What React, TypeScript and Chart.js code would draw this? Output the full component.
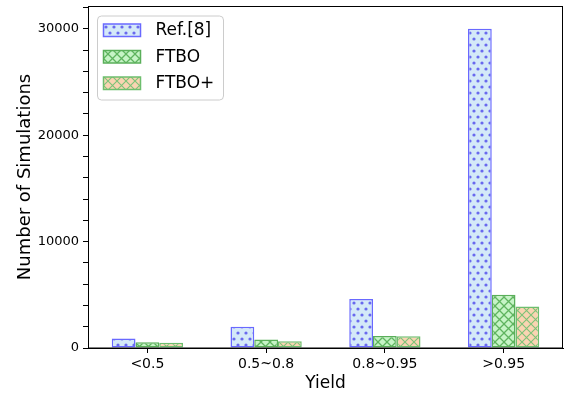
import React, { useEffect, useRef } from 'react';
import { Chart, registerables } from 'chart.js';

Chart.register(...registerables);

const categories = ['<0.5', '0.5~0.8', '0.8~0.95', '>0.95'];
const seriesNames = ['Ref.[8]', 'FTBO', 'FTBO+'];
const refValues = [900, 2000, 4600, 30000];
const ftboValues = [540, 800, 1130, 5000];
const ftboPlusValues = [500, 640, 1100, 3900];
const yTickLabels = [0, 10000, 20000, 30000];
const yMinorStep = 2000;
const yMax = 32150;
const xTitle = 'Yield';
const yTitle = 'Number of Simulations';

const FONT = "'DejaVu Sans', sans-serif";

function makeDots(bg: string, dot: string): CanvasPattern | string {
  const c = document.createElement('canvas');
  c.width = 8;
  c.height = 12;
  const g = c.getContext('2d')!;
  g.fillStyle = bg;
  g.fillRect(0, 0, 8, 12);
  g.fillStyle = dot;
  const pts = [[2, 3], [6, 9]];
  for (const [x, y] of pts) {
    g.beginPath();
    g.arc(x, y, 1.6, 0, Math.PI * 2);
    g.fill();
  }
  return g.createPattern(c, 'repeat') || bg;
}

function makeCross(bg: string, line: string, width: number): CanvasPattern | string {
  const s = 9;
  const c = document.createElement('canvas');
  c.width = s;
  c.height = s;
  const g = c.getContext('2d')!;
  g.fillStyle = bg;
  g.fillRect(0, 0, s, s);
  g.strokeStyle = line;
  g.lineWidth = width;
  for (const o of [-s, 0, s]) {
    g.beginPath();
    g.moveTo(o, 0);
    g.lineTo(o + s, s);
    g.moveTo(o, s);
    g.lineTo(o + s, 0);
    g.stroke();
  }
  return g.createPattern(c, 'repeat') || bg;
}

export default function App() {
  const ref = useRef<HTMLCanvasElement | null>(null);

  useEffect(() => {
    const canvas = ref.current;
    if (!canvas) return;

    const fills = [
      makeDots('rgb(212,233,248)', 'rgb(105,105,238)'),
      makeCross('rgb(198,244,198)', 'rgb(95,180,95)', 1.3),
      makeCross('rgb(250,212,178)', 'rgb(125,195,120)', 1.1),
    ];
    const edges = ['rgb(105,105,255)', 'rgb(90,175,90)', 'rgb(110,190,110)'];
    const values = [refValues, ftboValues, ftboPlusValues];

    const framePlugin = {
      id: 'frameLegend',
      afterDraw(chart: any) {
        const { ctx, chartArea: a } = chart;
        ctx.save();
        ctx.strokeStyle = '#000';
        ctx.lineWidth = 1;
        ctx.strokeRect(Math.round(a.left) + 0.5, Math.round(a.top) + 0.5, Math.round(a.right - a.left) - 1, Math.round(a.bottom - a.top) - 0.5);

        // legend
        const lx = a.left + 9.5;
        const ly = a.top + 10;
        const lw = 126;
        const lh = 84;
        ctx.beginPath();
        (ctx as any).roundRect(lx, ly, lw, lh, 4);
        ctx.fillStyle = 'rgba(255,255,255,0.85)';
        ctx.fill();
        ctx.strokeStyle = '#cccccc';
        ctx.lineWidth = 1;
        ctx.stroke();
        for (let i = 0; i < seriesNames.length; i++) {
          const cy = ly + 14 + i * 26.5;
          const px = lx + 6;
          const py = cy - 6;
          ctx.fillStyle = fills[i];
          ctx.fillRect(px, py, 37, 12.5);
          ctx.strokeStyle = edges[i];
          ctx.lineWidth = 1.5;
          ctx.strokeRect(px, py, 37, 12.5);
          ctx.fillStyle = '#000';
          ctx.font = `17px ${FONT}`;
          ctx.textBaseline = 'middle';
          ctx.textAlign = 'left';
          ctx.fillText(seriesNames[i], lx + 58, cy + 1);
        }
        ctx.restore();
      },
    };

    const chart = new Chart(canvas, {
      type: 'bar',
      data: {
        labels: categories,
        datasets: seriesNames.map((name, i) => ({
          label: name,
          data: values[i],
          backgroundColor: fills[i] as any,
          borderColor: edges[i],
          borderWidth: 1.5,
          borderSkipped: false,
          barPercentage: 1,
          categoryPercentage: 0.6,
        })),
      },
      options: {
        responsive: false,
        animation: false,
        layout: { padding: { left: 0, right: 4, top: 6, bottom: 0 } },
        plugins: {
          legend: { display: false },
          tooltip: { enabled: false },
        },
        scales: {
          x: {
            type: 'category',
            offset: true,
            grid: {
              display: true,
              drawOnChartArea: false,
              drawTicks: true,
              tickLength: 5,
              color: '#000',
              offset: false,
            },
            border: { display: true, color: '#000' },
            ticks: { color: '#000', font: { family: FONT, size: 14 }, padding: 3 },
            title: {
              display: true,
              text: xTitle,
              color: '#000',
              font: { family: FONT, size: 17 },
              padding: { top: 0, bottom: 3 },
            },
            afterFit(scale: any) {
              scale.height = 49;
              scale.paddingLeft = 0;
              scale.paddingRight = 0;
            },
          },
          y: {
            min: 0,
            max: yMax,
            grid: {
              display: true,
              drawOnChartArea: false,
              drawTicks: true,
              tickLength: 5,
              color: '#000',
            },
            border: { display: true, color: '#000' },
            ticks: {
              autoSkip: false,
              color: '#000',
              font: { family: FONT, size: 13 },
              padding: 4,
              callback: (v: any) => (yTickLabels.includes(Number(v)) ? String(v) : ''),
            },
            afterBuildTicks(scale: any) {
              const t: { value: number }[] = [];
              for (let v = 0; v <= yMax; v += yMinorStep) t.push({ value: v });
              scale.ticks = t;
            },
            title: {
              display: true,
              text: yTitle,
              color: '#000',
              font: { family: FONT, size: 18 },
              padding: { top: 15, bottom: 0 },
            },
            afterFit(scale: any) {
              scale.width = 88;
              scale.paddingTop = 0;
              scale.paddingBottom = 0;
            },
          },
        },
      },
      plugins: [framePlugin],
    });

    return () => chart.destroy();
  }, []);

  return (
    <div style={{ position: 'fixed', left: 0, top: 0, width: 567, height: 397 }}>
      <canvas ref={ref} width={567} height={397} style={{ display: 'block' }} />
    </div>
  );
}
